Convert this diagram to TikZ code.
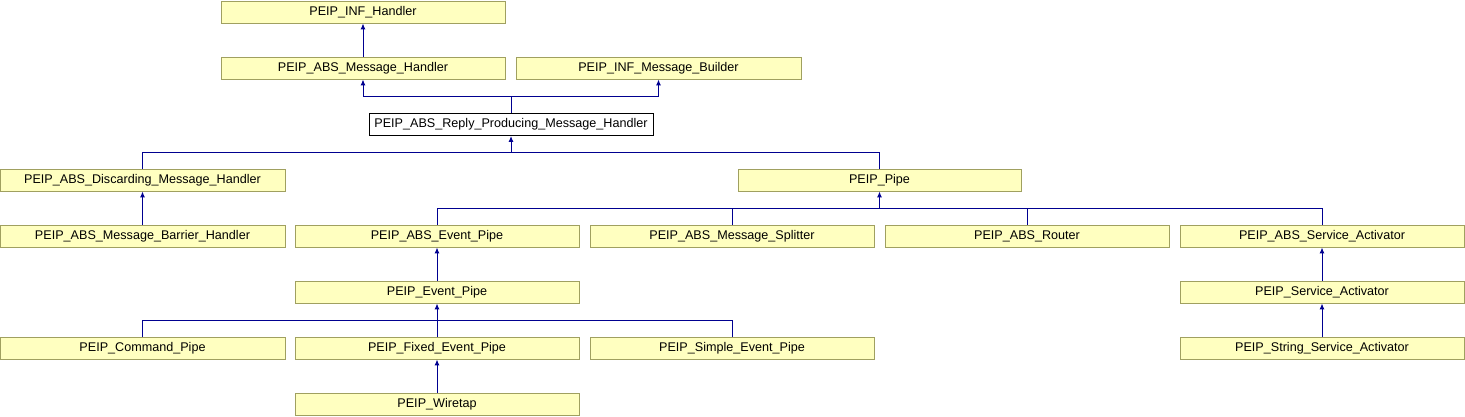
\documentclass[tikz,border=0pt]{standalone}
\usepackage{fontspec}
\setmainfont{Liberation Sans}
\usetikzlibrary{arrows.meta}
\definecolor{boxfill}{HTML}{FFFFC0}
\definecolor{boxline}{HTML}{A0A060}
\definecolor{edge}{HTML}{000090}
\begin{document}
\begin{tikzpicture}[x=1pt,y=-1pt,
  cls/.style={draw=boxline,fill=boxfill,line width=0.9pt,minimum width=284pt,minimum height=22pt,inner sep=0pt,font=\fontsize{12.6}{14}\selectfont},
  focus/.style={cls,draw=black,fill=white},
  inh/.style={draw=edge,line width=1pt,-{Latex[length=6pt,width=5pt]}},
  ln/.style={draw=edge,line width=1pt}]
\useasboundingbox (0,0) rectangle (1465,416);
% row 0
\node[cls] (infh) at (363,12) {PEIP\_INF\_Handler};
% row 1
\node[cls] (absmh) at (363,68) {PEIP\_ABS\_Message\_Handler};
\node[cls,minimum width=285pt] (infmb) at (658.5,68) {PEIP\_INF\_Message\_Builder};
% row 2
\node[focus] (reply) at (511,124.5) {PEIP\_ABS\_Reply\_Producing\_Message\_Handler};
% row 3
\node[cls,minimum width=285pt] (disc) at (142.5,180) {PEIP\_ABS\_Discarding\_Message\_Handler};
\node[cls,minimum width=283pt] (pipe) at (879.5,180) {PEIP\_Pipe};
% row 4
\node[cls,minimum width=285pt] (barrier) at (142.5,236) {PEIP\_ABS\_Message\_Barrier\_Handler};
\node[cls] (absev) at (437,236) {PEIP\_ABS\_Event\_Pipe};
\node[cls] (split) at (732,236) {PEIP\_ABS\_Message\_Splitter};
\node[cls] (router) at (1027,236) {PEIP\_ABS\_Router};
\node[cls] (abssa) at (1322,236) {PEIP\_ABS\_Service\_Activator};
% row 5
\node[cls] (evpipe) at (437,292) {PEIP\_Event\_Pipe};
\node[cls] (sa) at (1322,292) {PEIP\_Service\_Activator};
% row 6
\node[cls,minimum width=285pt] (cmd) at (142.5,348) {PEIP\_Command\_Pipe};
\node[cls] (fixed) at (437,348) {PEIP\_Fixed\_Event\_Pipe};
\node[cls] (simple) at (732,348) {PEIP\_Simple\_Event\_Pipe};
\node[cls] (ssa) at (1322,348) {PEIP\_String\_Service\_Activator};
% row 7
\node[cls] (wiretap) at (437,404) {PEIP\_Wiretap};
% junctions
\coordinate (j1) at (511,96);
\coordinate (j2) at (511,152);
\coordinate (j3) at (879.5,208);
\coordinate (j4) at (437,320);
% edges
\draw[inh] (absmh.north) -- (infh.south);
\draw[ln] (reply.north) -- (j1);
\draw[inh] (j1) -| (absmh.south);
\draw[inh] (j1) -| (infmb.south);
\draw[inh] (j2) -- (reply.south);
\draw[ln] (disc.north) |- (j2);
\draw[ln] (pipe.north) |- (j2);
\draw[inh] (barrier.north) -- (disc.south);
\draw[inh] (j3) -- (pipe.south);
\draw[ln] (absev.north) |- (j3);
\draw[ln] (split.north) |- (j3);
\draw[ln] (router.north) |- (j3);
\draw[ln] (abssa.north) |- (j3);
\draw[inh] (evpipe.north) -- (absev.south);
\draw[inh] (sa.north) -- (abssa.south);
\draw[inh] (ssa.north) -- (sa.south);
\draw[inh] (fixed.north) -- (evpipe.south);
\draw[ln] (cmd.north) |- (j4);
\draw[ln] (simple.north) |- (j4);
\draw[inh] (wiretap.north) -- (fixed.south);
\end{tikzpicture}
\end{document}
